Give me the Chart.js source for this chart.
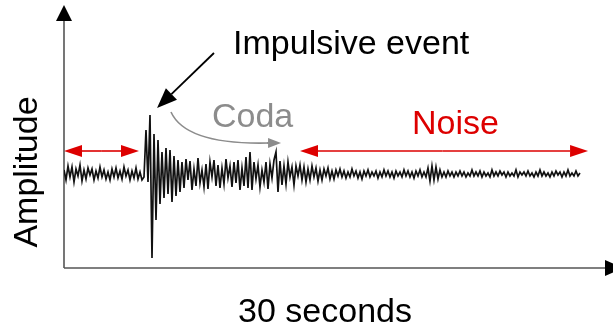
<!DOCTYPE html>
<html>
<head>
<meta charset="utf-8">
<script src="https://cdn.jsdelivr.net/npm/chart.js@4.4.0/dist/chart.umd.min.js"></script>
<style>
  html, body { margin: 0; padding: 0; background: #fff; }
</style>
</head>
<body>
<canvas id="grafico" width="613" height="328"></canvas>
<script>
// duração do registro (s) e amplitude (unidades arbitrárias)
const duracao = 30;
const amplitude = [
  4, -6, 8, -3, 7, -8, 5, -2, 9, -7, 4, -5, 6, -1, 5, -6, 3, -4, 7, -3,
  4, -5, 2, -6, 5, -3, 6, -4, 3, -5, 7, -2, 4, -6, 3, -4, 6, -5, 2, -6,
  -3, 44, -8, 59, -84, 40, -46, 34, -30, 22, -24, 26, -20, 24, -28, 18, -22, 14, -18, 12,
  -14, 15, -6, 13, -16, 5, -12, 16, -9, 4, -13, 10, -15, 12, -3, 14, -12, 9, -14, 6,
  -10, 15, -4, 8, -13, 12, -9, 14, -16, 6, -12, 17, -14, 22, -16, 12, -5, 9, -13, 4,
  -8, 12, -15, 10, -4, 14, 22, -18, 13, -11, 8, -10, 12, -3, 7, -11, 8, -2, 9, -6,
  7, -8, 5, -6, 8, -3, 6, -7, 4, -6, 5, -2, 6, -5, 3, -5, 4, -2, 5, -3,
  3, -4, 2, -3, 5, -2, 3, -4, 2, -5, 3, -2, 4, -3, 2, -2, 3, -4, 2, -3,
  4, -2, 3, -3, 2, -4, 3, -2, 2, -3, 4, -2, 3, -3, 2, -4, 3, -2, 4, -3,
  2, -3, 6, -7, 8, -6, 7, -5, 4, -3, 2, -3, 3, -2, 2, -3, 2, -2, 3, -2,
  2, -3, 1, -2, 4, -2, 2, -2, 3, -3, 2, -2, 1, -3, 4, -2, 2, -2, 3, -1,
  2, -3, 2, -2, 1, -2, 4, -3, 2, -1, 2, -2, 3, -2, 1, -3, 2, -2, 4, -2,
  2, -2, 1, -3, 2, -2, 3, -1, 2, -3, 2, -2, 4, -2, 1, -2, 3, -2, 1
];
const tituloX = '30 seconds';
const tituloY = 'Amplitude';
const textoEvento = 'Impulsive event';
const textoCoda = 'Coda';
const textoRuido = 'Noise';

const fonte = '34px "Liberation Sans", Arial, sans-serif';
const vermelho = '#dd0000';
const cinza = '#8c8c8c';

const pontos = amplitude.map((a, i) => ({ x: i * duracao / (amplitude.length - 1), y: a }));

function seta(ctx, x1, y1, x2, y2, comp, larg, cor, lw) {
    const ang = Math.atan2(y2 - y1, x2 - x1);
    const bx = x2 - Math.cos(ang) * comp, by = y2 - Math.sin(ang) * comp;
    ctx.strokeStyle = cor;
    ctx.lineWidth = lw;
    ctx.beginPath();
    ctx.moveTo(x1, y1);
    ctx.lineTo(bx, by);
    ctx.stroke();
    ctx.fillStyle = cor;
    ctx.beginPath();
    ctx.moveTo(x2, y2);
    ctx.lineTo(bx + Math.sin(ang) * larg, by - Math.cos(ang) * larg);
    ctx.lineTo(bx - Math.sin(ang) * larg, by + Math.cos(ang) * larg);
    ctx.closePath();
    ctx.fill();
}

// eixos com setas
const eixos = {
    id: 'eixos',
    beforeDatasetsDraw(chart) {
        const { ctx, chartArea: a } = chart;
        ctx.save();
        ctx.strokeStyle = '#555';
        ctx.lineWidth = 1.6;
        ctx.beginPath();
        ctx.moveTo(a.left, a.bottom);
        ctx.lineTo(a.left, a.top + 14);
        ctx.moveTo(a.left, a.bottom);
        ctx.lineTo(a.right - 8, a.bottom);
        ctx.stroke();
        ctx.fillStyle = '#000';
        ctx.beginPath();
        ctx.moveTo(a.left, a.top);
        ctx.lineTo(a.left - 8, a.top + 16);
        ctx.lineTo(a.left + 8, a.top + 16);
        ctx.closePath();
        ctx.fill();
        ctx.beginPath();
        ctx.moveTo(a.right + 10, a.bottom);
        ctx.lineTo(a.right - 8, a.bottom - 8);
        ctx.lineTo(a.right - 8, a.bottom + 8);
        ctx.closePath();
        ctx.fill();

        ctx.font = fonte;
        ctx.fillStyle = '#000';
        ctx.textAlign = 'center';
        ctx.textBaseline = 'alphabetic';
        ctx.fillText(tituloX, 325, 322);
        ctx.translate(37, 172);
        ctx.rotate(-Math.PI / 2);
        ctx.fillText(tituloY, 0, 0);
        ctx.restore();
    }
};

// anotações em unidades dos dados (s, amplitude)
const anotacoes = {
    id: 'anotacoes',
    afterDatasetsDraw(chart) {
        const { ctx, scales: { x, y } } = chart;
        const px = v => x.getPixelForValue(v), py = v => y.getPixelForValue(v);
        ctx.save();

        // setas vermelhas
        seta(ctx, px(2.2), py(23), px(0), py(23), 18, 6, vermelho, 1.6);
        seta(ctx, px(2.2), py(23), px(4.36), py(23), 18, 6, vermelho, 1.6);
        seta(ctx, px(22), py(23), px(13.72), py(23), 18, 6, vermelho, 1.6);
        seta(ctx, px(22), py(23), px(30.47), py(23), 18, 6, vermelho, 1.6);

        // seta preta do evento
        seta(ctx, px(8.72), py(121), px(5.41), py(66), 20, 8, '#000', 1.8);

        // curva da coda
        ctx.strokeStyle = cinza;
        ctx.lineWidth = 1.6;
        ctx.beginPath();
        ctx.moveTo(px(6.22), py(62));
        ctx.quadraticCurveTo(px(7.09), py(29), px(11.9), py(31));
        ctx.stroke();
        seta(ctx, px(11.8), py(31), px(12.62), py(31), 13, 5, cinza, 1.6);

        ctx.font = fonte;
        ctx.textAlign = 'left';
        ctx.textBaseline = 'alphabetic';
        ctx.fillStyle = '#000';
        ctx.fillText(textoEvento, px(9.83), py(120));
        ctx.fillStyle = cinza;
        ctx.fillText(textoCoda, px(8.6), py(47));
        ctx.fillStyle = vermelho;
        ctx.fillText(textoRuido, px(20.23), py(40));
        ctx.restore();
    }
};

new Chart(document.getElementById('grafico').getContext('2d'), {
    type: 'line',
    data: {
        datasets: [{
            data: pontos,
            borderColor: '#111',
            borderWidth: 1.7,
            pointRadius: 0,
            tension: 0,
            fill: false
        }]
    },
    options: {
        responsive: false,
        animation: false,
        layout: { padding: { left: 64, right: 0, top: 5, bottom: 60 } },
        plugins: { legend: { display: false }, tooltip: { enabled: false } },
        scales: {
            x: { type: 'linear', min: 0, max: 31.92, display: false },
            y: { min: -94, max: 169, display: false }
        }
    },
    plugins: [eixos, anotacoes]
});
</script>
</body>
</html>
